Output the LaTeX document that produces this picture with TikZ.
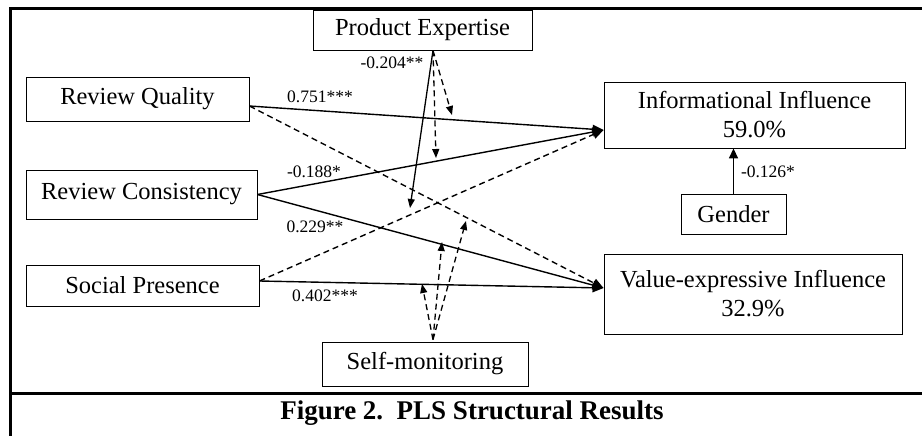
\documentclass[tikz,border=0pt]{standalone}
\usepackage{fontspec}
\setmainfont{Liberation Serif}
\usetikzlibrary{arrows.meta,calc}
\begin{document}
\begin{tikzpicture}[x=1pt,y=-1pt,
  box/.style={draw,line width=0.9pt,inner sep=0pt,align=center,font=\fontsize{24.5}{29}\selectfont},
  pathln/.style={line width=1.4pt,-{Triangle[length=11pt,width=9pt]}},
  dpathln/.style={pathln,dash pattern=on 6pt off 4pt},
  modln/.style={line width=1.3pt,-{Triangle[length=9pt,width=7pt]}},
  dmodln/.style={modln,dash pattern=on 6pt off 4pt},
  coef/.style={font=\fontsize{17.5}{20}\selectfont,inner sep=0pt},
  frameln/.style={line width=3pt}]
\useasboundingbox (0,0) rectangle (922,436);
% frame
\draw[frameln] (10,436) -- (10,9) -- (922,9);
\draw[frameln] (10,393) -- (922,393);
% nodes
\node[box,minimum width=219pt,minimum height=40pt] (pe) at (422.5,30) {Product Expertise};
\node[box,minimum width=223pt,minimum height=44pt] (rq) at (137.5,99) {Review Quality};
\node[box,minimum width=231pt,minimum height=49pt] (rc) at (141.5,194.5) {Review Consistency};
\node[box,minimum width=233pt,minimum height=41pt] (sp) at (142.5,285.5) {Social Presence};
\node[box,minimum width=301pt,minimum height=66pt] (info) at (754.5,115) {Informational Influence\\59.0\%};
\node[box,minimum width=105pt,minimum height=40pt] (gender) at (733.5,214) {Gender};
\node[box,minimum width=298pt,minimum height=80pt] (ve) at (753,294) {Value-expressive Influence\\32.9\%};
\node[box,minimum width=206pt,minimum height=44pt] (sm) at (425,364) {Self-monitoring};
\node[font=\bfseries\fontsize{27}{32}\selectfont,inner sep=0pt] (cap) at (472,413) {Figure 2.\ \ PLS Structural Results};
% anchor points
\coordinate (rqout) at ($(rq.east)+(0,7)$);
\coordinate (spout) at ($(sp.east)+(0,-4.5)$);
\coordinate (infoin) at ($(info.west)+(0,15)$);
\coordinate (vein) at ($(ve.west)+(0,-6)$);
\coordinate (peout) at ($(pe.south)+(10.5,0)$);
\coordinate (smin) at ($(sm.north)+(8,-2)$);
\coordinate (m1) at (410,208);
\coordinate (m2) at (436,158);
\coordinate (m3) at (452,115);
\coordinate (s1) at (422,284);
\coordinate (s2) at (442,242);
\coordinate (s3) at (466,221);
% main paths
\draw[pathln] (rqout) -- (infoin);
\draw[dpathln] (rqout) -- (vein);
\draw[pathln] (rc.east) -- (infoin);
\draw[pathln] (rc.east) -- (vein);
\draw[dpathln] (spout) -- (infoin);
\draw[pathln] (spout) -- (vein);
\draw[line width=1.6pt,-{Triangle[length=10pt,width=9pt]}] (gender.north) -- (gender.north |- info.south);
% moderation
\draw[modln] (peout) -- (m1);
\draw[dmodln] (peout) -- (m2);
\draw[dmodln] (peout) -- (m3);
\draw[dmodln] (smin) -- (s1);
\draw[dmodln] (smin) -- (s2);
\draw[dmodln] (smin) -- (s3);
% coefficients
\node[coef] (c1) at (320,97) {0.751***};
\node[coef] (c2) at (392,63) {-0.204**};
\node[coef] (c3) at (314,172) {-0.188*};
\node[coef] (c4) at (315,227) {0.229**};
\node[coef] (c5) at (325,296) {0.402***};
\node[coef] (c6) at (768,172) {-0.126*};
\end{tikzpicture}
\end{document}
